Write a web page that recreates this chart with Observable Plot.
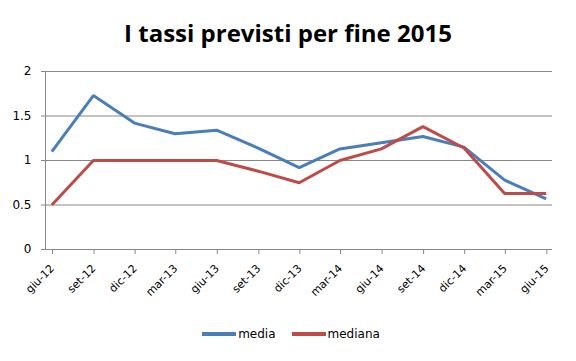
<!DOCTYPE html>
<html>
<head>
<meta charset="utf-8">
<script src="https://cdn.jsdelivr.net/npm/d3@7"></script>
<script src="https://cdn.jsdelivr.net/npm/@observablehq/plot@0.6"></script>
<style>
  html, body { margin: 0; padding: 0; background: #fff; }
  #wrap { width: 576px; height: 361px; position: relative; overflow: hidden; }
  #title { height: 55px; line-height: 66px; text-align: center; font-family: "Open Sans", sans-serif; font-weight: bold; font-size: 24px; color: #000; }
  #legend { display: flex; justify-content: center; align-items: center; gap: 16px; font-family: "DejaVu Sans", sans-serif; font-size: 12px; color: #000; margin-top: 7px; padding-left: 6px; }
  .item { display: flex; align-items: center; }
  .sw { width: 34px; height: 4px; margin-right: 2px; }
</style>
</head>
<body>
<div id="wrap">
  <div id="title">I tassi previsti per fine 2015</div>
  <div id="chart"></div>
  <div id="legend"></div>
</div>
<script>
const dates = ["2012-06-15","2012-09-15","2012-12-15","2013-03-15","2013-06-15","2013-09-15","2013-12-15","2014-03-15","2014-06-15","2014-09-15","2014-12-15","2015-03-15","2015-06-15"];
const media   = [1.10, 1.73, 1.42, 1.30, 1.34, 1.14, 0.92, 1.13, 1.20, 1.27, 1.15, 0.78, 0.57];
const mediana = [0.50, 1.00, 1.00, 1.00, 1.00, 0.88, 0.75, 1.00, 1.13, 1.38, 1.14, 0.63, 0.63];
const tickDates = ["2012-06-01","2012-09-01","2012-12-01","2013-03-01","2013-06-01","2013-09-01","2013-12-01","2014-03-01","2014-06-01","2014-09-01","2014-12-01","2015-03-01","2015-06-01"];
const monthNames = ["gen","feb","mar","apr","mag","giu","lug","ago","set","ott","nov","dic"];
const yTicks = [0, 0.5, 1, 1.5, 2];
const seriesNames = ["media", "mediana"];
const seriesColors = ["#4A7EBB", "#BE4B48"];

const parse = d3.utcParse("%Y-%m-%d");
const rows = [];
dates.forEach((d, i) => {
  rows.push({date: parse(d), value: media[i], serie: "media"});
  rows.push({date: parse(d), value: mediana[i], serie: "mediana"});
});
const xDomain = [parse("2012-06-01"), parse("2015-06-29")];
const fmt = d => monthNames[d.getUTCMonth()] + "-" + String(d.getUTCFullYear()).slice(2);

const chart = Plot.plot({
  width: 576,
  height: 265,
  marginLeft: 45,
  marginRight: 24,
  marginTop: 16,
  marginBottom: 71,
  style: {fontFamily: "DejaVu Sans, sans-serif", color: "#000", background: "#fff"},
  x: {type: "utc", domain: xDomain},
  y: {domain: [0, 2]},
  color: {domain: seriesNames, range: seriesColors},
  marks: [
    Plot.gridY(yTicks, {stroke: "#878787", strokeOpacity: 1}),
    Plot.ruleY([0], {stroke: "#878787"}),
    Plot.ruleX([xDomain[0]], {stroke: "#878787"}),
    Plot.axisY(yTicks, {tickSize: 4, tickPadding: 10, stroke: "#878787", fontSize: 12, fill: "#000", label: null, tickFormat: d => String(d)}),
    Plot.axisX(tickDates.map(parse), {tickSize: 5, tickRotate: -45, tickPadding: 12, dx: 7, stroke: "#878787", fontSize: 11, fill: "#000", label: null, tickFormat: fmt}),
    Plot.line(rows, {x: "date", y: "value", stroke: "serie", z: "serie", strokeWidth: 3, strokeLinejoin: "miter", strokeLinecap: "butt"})
  ]
});
document.getElementById("chart").appendChild(chart);

const legend = document.getElementById("legend");
seriesNames.forEach((n, i) => {
  const it = document.createElement("div");
  it.className = "item";
  const sw = document.createElement("div");
  sw.className = "sw";
  sw.style.background = seriesColors[i];
  const t = document.createElement("span");
  t.textContent = n;
  it.appendChild(sw);
  it.appendChild(t);
  legend.appendChild(it);
});
</script>
</body>
</html>
